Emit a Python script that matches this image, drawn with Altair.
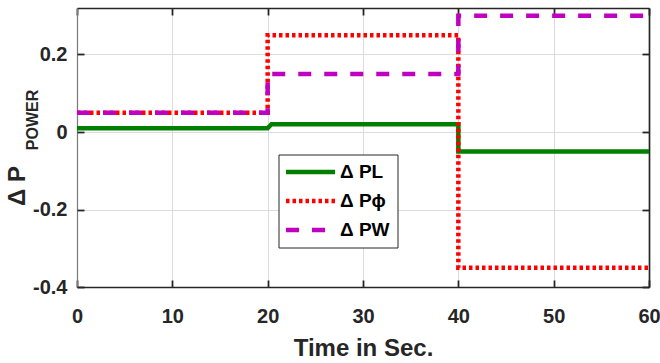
import altair as alt
import pandas as pd

# Step responses of the three power deviations (time in s, deviation in p.u.)
time_pl = [0, 20, 20.4, 40, 40, 60]
power_pl = [0.01, 0.01, 0.02, 0.02, -0.05, -0.05]
time_pphi = [0, 20, 20, 40, 40, 60]
power_pphi = [0.05, 0.05, 0.25, 0.25, -0.35, -0.35]
time_pw = [0, 20, 20, 40, 40, 60]
power_pw = [0.05, 0.05, 0.15, 0.15, 0.30, 0.30]

series_names = ["Δ PL", "Δ Pϕ", "Δ PW"]
x_ticks = [0, 10, 20, 30, 40, 50, 60]
y_ticks = [-0.4, -0.2, 0, 0.2]

# styling
series_colors = ["#008000", "#ff0000", "#c000c0"]
series_dashes = [[1, 0], [3.5, 3], [13, 13]]
FONT = "Liberation Sans"
DARK = "#262626"
LINE_W = 4.5

rows = []
idx = 0
for name, ts, vs in zip(series_names, [time_pl, time_pphi, time_pw],
                        [power_pl, power_pphi, power_pw]):
    for t, v in zip(ts, vs):
        rows.append({"t": t, "v": v, "series": name, "idx": idx})
        idx += 1
df = pd.DataFrame(rows)
legend_df = pd.DataFrame({"series": series_names, "row": list(range(len(series_names)))})

xs = alt.Scale(domain=[0, 60], nice=False, zero=False)
ys = alt.Scale(domain=[-0.4, 0.32], nice=False, zero=False)
color_scale = alt.Scale(domain=series_names, range=series_colors)
dash_scale = alt.Scale(domain=series_names, range=series_dashes)

y_label_expr = ("datum.value == 0 ? '0' : (datum.value < 0 ? '-' : '') + "
                "format(abs(datum.value), '.1f')")

main_x_axis = alt.Axis(values=x_ticks, grid=True, gridColor="#dcdcdc", gridWidth=1,
                       ticks=False, tickSize=0, domain=True, domainColor=DARK,
                       domainWidth=1.6, labelFont=FONT, labelFontSize=20,
                       labelFontWeight="bold", labelColor=DARK, labelPadding=19,
                       labelFlush=False,
                       title="Time in Sec.", titleFont=FONT, titleFontSize=24,
                       titleFontWeight="bold", titleColor=DARK, titlePadding=10)
main_y_axis = alt.Axis(values=y_ticks, grid=True, gridColor="#dcdcdc", gridWidth=1,
                       ticks=False, tickSize=0, domain=True, domainColor="#7a7a7a",
                       domainWidth=1.2, labelFont=FONT, labelFontSize=20,
                       labelFontWeight="bold", labelColor=DARK, labelPadding=10,
                       labelFlush=False, labelExpr=y_label_expr, title=None)

lines = alt.Chart(df).mark_line(strokeWidth=LINE_W, strokeCap="butt",
                                strokeJoin="miter").encode(
    x=alt.X("t:Q", scale=xs, axis=main_x_axis),
    y=alt.Y("v:Q", scale=ys, axis=main_y_axis),
    color=alt.Color("series:N", scale=color_scale, legend=None),
    strokeDash=alt.StrokeDash("series:N", scale=dash_scale, legend=None),
    order=alt.Order("idx:Q"),
)


def frame_axis(orient, offset, domain, ticks, values):
    return alt.Axis(orient=orient, offset=offset, domain=domain, domainColor=DARK,
                    domainWidth=1.7, labels=False, grid=False, ticks=ticks,
                    values=values, tickSize=7, tickColor=DARK, tickWidth=1.8,
                    title=None)


def frame_layer(x_orient, y_orient, offset, domain, ticks):
    return alt.Chart(df).mark_line(strokeOpacity=0).encode(
        x=alt.X("t:Q", scale=xs,
                axis=frame_axis(x_orient, offset, domain, ticks, x_ticks)),
        y=alt.Y("v:Q", scale=ys,
                axis=frame_axis(y_orient, offset, domain, ticks, y_ticks)),
    )


# inward-pointing ticks on all four sides, plus the top/right frame lines
inner_ticks_bl = frame_layer("bottom", "left", -7, False, True)
inner_ticks_tr = frame_layer("top", "right", -7, False, True)
frame_tr = frame_layer("top", "right", 0, True, False)

# boxed legend inside the plot area
legend_row_scale = alt.Scale(domain=[0, 2], range=[164, 222])
legend_box = alt.Chart(pd.DataFrame({"b": [0]})).mark_rect(
    fill="white", stroke=DARK, strokeWidth=1,
).encode(x=alt.value(202), x2=alt.value(321), y=alt.value(147), y2=alt.value(240))
legend_symbols = alt.Chart(legend_df).mark_rule(
    strokeWidth=LINE_W, strokeCap="butt",
).encode(
    x=alt.value(209), x2=alt.value(258),
    y=alt.Y("row:Q", scale=legend_row_scale, axis=None),
    color=alt.Color("series:N", scale=color_scale, legend=None),
    strokeDash=alt.StrokeDash("series:N", scale=dash_scale, legend=None),
)
legend_labels = alt.Chart(legend_df).mark_text(
    font=FONT, fontSize=19, fontWeight="bold", color="black",
    align="left", baseline="middle",
).encode(
    x=alt.value(263),
    y=alt.Y("row:Q", scale=legend_row_scale, axis=None),
    text="series:N",
)

# y-axis title: "Δ P" with subscript "POWER"
ylab_main = alt.Chart(pd.DataFrame({"s": ["Δ P"]})).mark_text(
    angle=270, font=FONT, fontSize=24, fontWeight="bold", align="center",
    baseline="alphabetic", color=DARK,
).encode(text="s:N", x=alt.value(-52), y=alt.value(178))
ylab_sub = alt.Chart(pd.DataFrame({"s": ["POWER"]})).mark_text(
    angle=270, font=FONT, fontSize=16, fontWeight="bold", align="center",
    baseline="alphabetic", color=DARK,
).encode(text="s:N", x=alt.value(-39), y=alt.value(112))

chart = alt.layer(
    lines, inner_ticks_bl, inner_ticks_tr, frame_tr,
    legend_box, legend_symbols, legend_labels, ylab_main, ylab_sub,
).resolve_axis(
    x="independent", y="independent"
).resolve_scale(
    y="independent"
).properties(
    width=572, height=279,
    autosize=alt.AutoSizeParams(type="none"),
    padding={"left": 77, "top": 8, "right": 11, "bottom": 76},
    background="white",
).configure_view(stroke=None)

chart.save("out.html", embed_options={"renderer": "svg", "actions": False})
